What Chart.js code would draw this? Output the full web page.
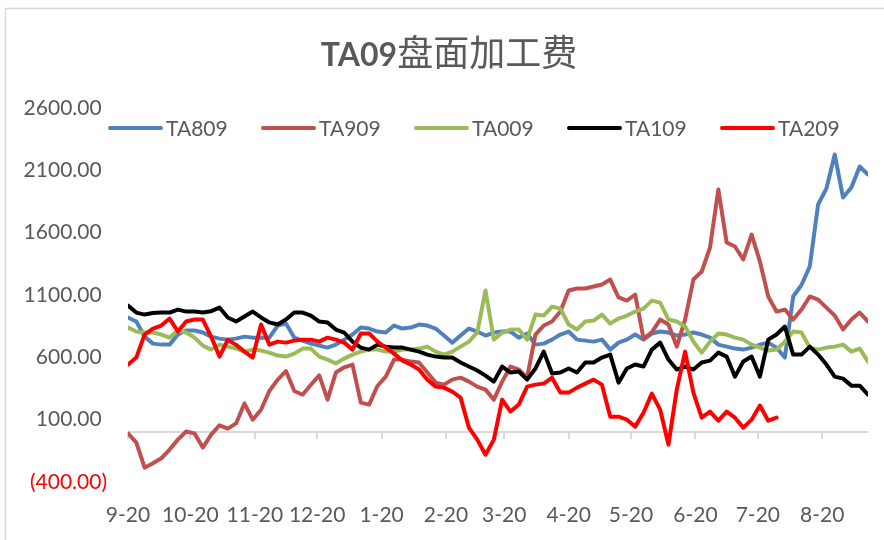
<!DOCTYPE html>
<html>
<head>
<meta charset="utf-8">
<script src="https://cdn.jsdelivr.net/npm/chart.js@4.4.1/dist/chart.umd.min.js"></script>
<style>
  html, body { margin: 0; padding: 0; background: #fff; }
  #wrap { width: 884px; height: 540px; }
</style>
</head>
<body>
<div id="wrap"><canvas id="chart" width="884" height="540"></canvas></div>
<script>
// 月份刻度（从 9-20 起算的天数）
const monthLabels = ["9-20", "10-20", "11-20", "12-20", "1-20", "2-20", "3-20", "4-20", "5-20", "6-20", "7-20", "8-20"];
const monthDays = [0, 30, 61, 91, 122, 153, 181, 212, 242, 273, 303, 334];
const yTicks = [-400, 100, 600, 1100, 1600, 2100, 2600];

// 每 4 天取一个读数
const sampleDays = Array.from({ length: 90 }, (_, i) => i * 4);

const ta809 = [
  919, 887, 766, 710, 702, 702, 783, 815, 815, 799,
  766, 750, 742, 750, 766, 758, 758, 758, 855, 871,
  758, 734, 710, 694, 678, 702, 742, 783, 839, 831,
  807, 799, 855, 831, 839, 863, 855, 831, 775, 718,
  775, 831, 807, 775, 799, 807, 807, 758, 791, 702,
  710, 742, 783, 807, 742, 734, 726, 742, 662, 718,
  742, 783, 742, 791, 807, 799, 775, 783, 799, 783,
  758, 702, 686, 670, 662, 678, 702, 718, 678, 598,
  1088, 1180, 1330, 1826, 1954, 2227, 1882, 1962, 2131, 2067
];
const ta909 = [
  -10, -84, -285, -250, -210, -140, -60, 5, -10, -124,
  -20, 55, 28, 70, 230, 100, 180, 330, 421, 490,
  330, 300, 380, 455, 261, 478, 520, 542, 237, 221,
  370, 445, 582, 582, 566, 558, 478, 397, 381, 421,
  437, 405, 365, 341, 261, 405, 526, 502, 437, 783,
  855, 887, 967, 1136, 1152, 1152, 1168, 1184, 1224, 1080,
  1055, 1104, 750, 800, 903, 863, 686, 903, 1224, 1288,
  1481, 1946, 1521, 1489, 1385, 1585, 1369, 1088, 967, 983,
  903, 983, 1088, 1063, 999, 935, 823, 903, 959, 887
];
const ta009 = [
  839, 807, 799, 799, 783, 758, 815, 799, 758, 694,
  662, 702, 686, 670, 646, 662, 654, 638, 614, 606,
  630, 670, 670, 606, 582, 550, 590, 622, 646, 662,
  662, 646, 646, 662, 662, 670, 686, 646, 622, 646,
  686, 726, 799, 1136, 742, 799, 823, 823, 742, 943,
  935, 1007, 991, 863, 823, 887, 895, 943, 871, 911,
  935, 967, 991, 1055, 1039, 903, 887, 847, 726, 638,
  726, 791, 783, 758, 742, 702, 678, 654, 662, 726,
  807, 799, 678, 662, 678, 686, 702, 646, 670, 566
];
const ta109 = [
  1015, 959, 943, 955, 959, 959, 983, 967, 967, 959,
  970, 999, 919, 887, 927, 967, 920, 880, 863, 903,
  959, 959, 935, 887, 879, 823, 799, 726, 678, 662,
  702, 686, 678, 678, 662, 646, 622, 606, 598, 598,
  558, 526, 494, 453, 405, 526, 478, 486, 421, 510,
  646, 470, 478, 510, 478, 558, 558, 598, 622, 397,
  510, 542, 526, 662, 718, 582, 502, 526, 502, 558,
  574, 638, 606, 445, 566, 606, 445, 742, 783, 847,
  622, 622, 686, 622, 542, 445, 429, 373, 373, 301
];
const ta209 = [
  542, 598, 783, 831, 855, 911, 807, 887, 903, 903,
  766, 606, 740, 700, 646, 598, 863, 702, 726, 718,
  734, 742, 742, 726, 758, 742, 718, 662, 791, 791,
  726, 678, 630, 574, 542, 502, 421, 365, 357, 325,
  277, 36, -60, -181, -60, 261, 165, 221, 365, 381,
  389, 437, 317, 317, 357, 389, 421, 381, 124, 124,
  100, 44, 156, 309, 181, -100, 341, 646, 317, 116,
  165, 92, 165, 116, 36, 100, 213, 92, 116, null,
  null, null, null, null, null, null, null, null, null, null
];

const seriesNames = ["TA809", "TA909", "TA009", "TA109", "TA209"];
const seriesValues = [ta809, ta909, ta009, ta109, ta209];
const seriesColors = ["#4F81BD", "#C0504D", "#9BBB59", "#000000", "#FF0000"];

const textColor = "#595959";
const fontFamily = 'Lato, "Noto Sans CJK SC", sans-serif';

function fmt(v) {
  if (v < 0) return "(" + Math.abs(v).toFixed(2) + ")";
  return v.toFixed(2) + " ";
}

// 背景和外框
const frame = {
  id: "frame",
  beforeDraw(chart) {
    const ctx = chart.ctx;
    ctx.save();
    ctx.fillStyle = "#ffffff";
    ctx.fillRect(0, 0, chart.width, chart.height);
    ctx.strokeStyle = "#d9d9d9";
    ctx.lineWidth = 1.5;
    ctx.strokeRect(5.5, 8.5, chart.width + 10, chart.height + 10);
    ctx.restore();
  }
};

// 0 轴线和月份刻度线
const zeroAxis = {
  id: "zeroAxis",
  beforeDatasetsDraw(chart) {
    const { ctx, chartArea, scales: { x, y } } = chart;
    const y0 = Math.round(y.getPixelForValue(0));
    ctx.save();
    ctx.strokeStyle = "#d9d9d9";
    ctx.lineWidth = 2;
    ctx.beginPath();
    ctx.moveTo(chartArea.left, y0);
    ctx.lineTo(chartArea.right, y0);
    monthDays.forEach(d => {
      const px = Math.round(x.getPixelForValue(d));
      ctx.moveTo(px, y0);
      ctx.lineTo(px, y0 + 7);
    });
    ctx.stroke();
    ctx.restore();
  }
};

// 标题和图例
const titleLegend = {
  id: "titleLegend",
  afterDraw(chart) {
    const ctx = chart.ctx;
    ctx.save();
    const part1 = "TA09", part2 = "盘面加工费";
    const f1 = "bold 32px Lato", f2 = '36px "Noto Sans CJK SC"';
    ctx.font = f1; const w1 = ctx.measureText(part1).width;
    ctx.font = f2; const w2 = ctx.measureText(part2).width;
    let tx = 449 - (w1 + w2) / 2;
    ctx.fillStyle = textColor;
    ctx.textBaseline = "alphabetic";
    ctx.textAlign = "left";
    ctx.font = f1; ctx.fillText(part1, tx, 66);
    ctx.font = f2; ctx.fillText(part2, tx + w1, 66);

    ctx.font = "21px " + fontFamily;
    ctx.textBaseline = "middle";
    chart.data.datasets.forEach((ds, i) => {
      const lx = 108 + i * 153, ly = 128;
      ctx.strokeStyle = ds.borderColor;
      ctx.lineWidth = 4;
      ctx.lineCap = "round";
      ctx.beginPath();
      ctx.moveTo(lx + 2, ly);
      ctx.lineTo(lx + 53, ly);
      ctx.stroke();
      ctx.fillStyle = textColor;
      ctx.fillText(ds.label, lx + 58, ly + 1);
    });
    ctx.restore();
  }
};

const datasets = seriesNames.map((name, s) => ({
  label: name,
  data: sampleDays.map((d, i) => ({ x: d, y: seriesValues[s][i] })),
  borderColor: seriesColors[s],
  backgroundColor: seriesColors[s],
  borderWidth: 4,
  borderJoinStyle: "round",
  borderCapStyle: "round",
  pointRadius: 0,
  tension: 0,
  fill: false,
  spanGaps: false,
  order: seriesNames.length - s
}));

new Chart(document.getElementById("chart"), {
  type: "line",
  data: { datasets },
  options: {
    responsive: false,
    animation: false,
    devicePixelRatio: 1,
    layout: { padding: { left: 0, right: 16, top: 108, bottom: 0 } },
    plugins: {
      legend: { display: false },
      title: { display: false },
      tooltip: { enabled: false }
    },
    scales: {
      x: {
        type: "linear",
        min: 0,
        max: 356,
        grid: { display: false, drawTicks: false },
        border: { display: false },
        afterBuildTicks: scale => { scale.ticks = monthDays.map(v => ({ value: v })); },
        afterFit: scale => { scale.height = 58; },
        ticks: {
          autoSkip: false,
          maxRotation: 0,
          padding: 21,
          color: textColor,
          font: { family: fontFamily, size: 21 },
          callback: v => monthLabels[monthDays.indexOf(v)]
        }
      },
      y: {
        min: -400,
        max: 2600,
        grid: { display: false, drawTicks: false },
        border: { display: false },
        afterBuildTicks: scale => { scale.ticks = yTicks.map(v => ({ value: v })); },
        afterFit: scale => { scale.width = 128; },
        ticks: {
          padding: 21,
          color: c => (c.tick && c.tick.value < 0 ? "#FF0000" : textColor),
          font: { family: fontFamily, size: 21 },
          callback: v => fmt(v)
        }
      }
    }
  },
  plugins: [frame, zeroAxis, titleLegend]
});
</script>
</body>
</html>
